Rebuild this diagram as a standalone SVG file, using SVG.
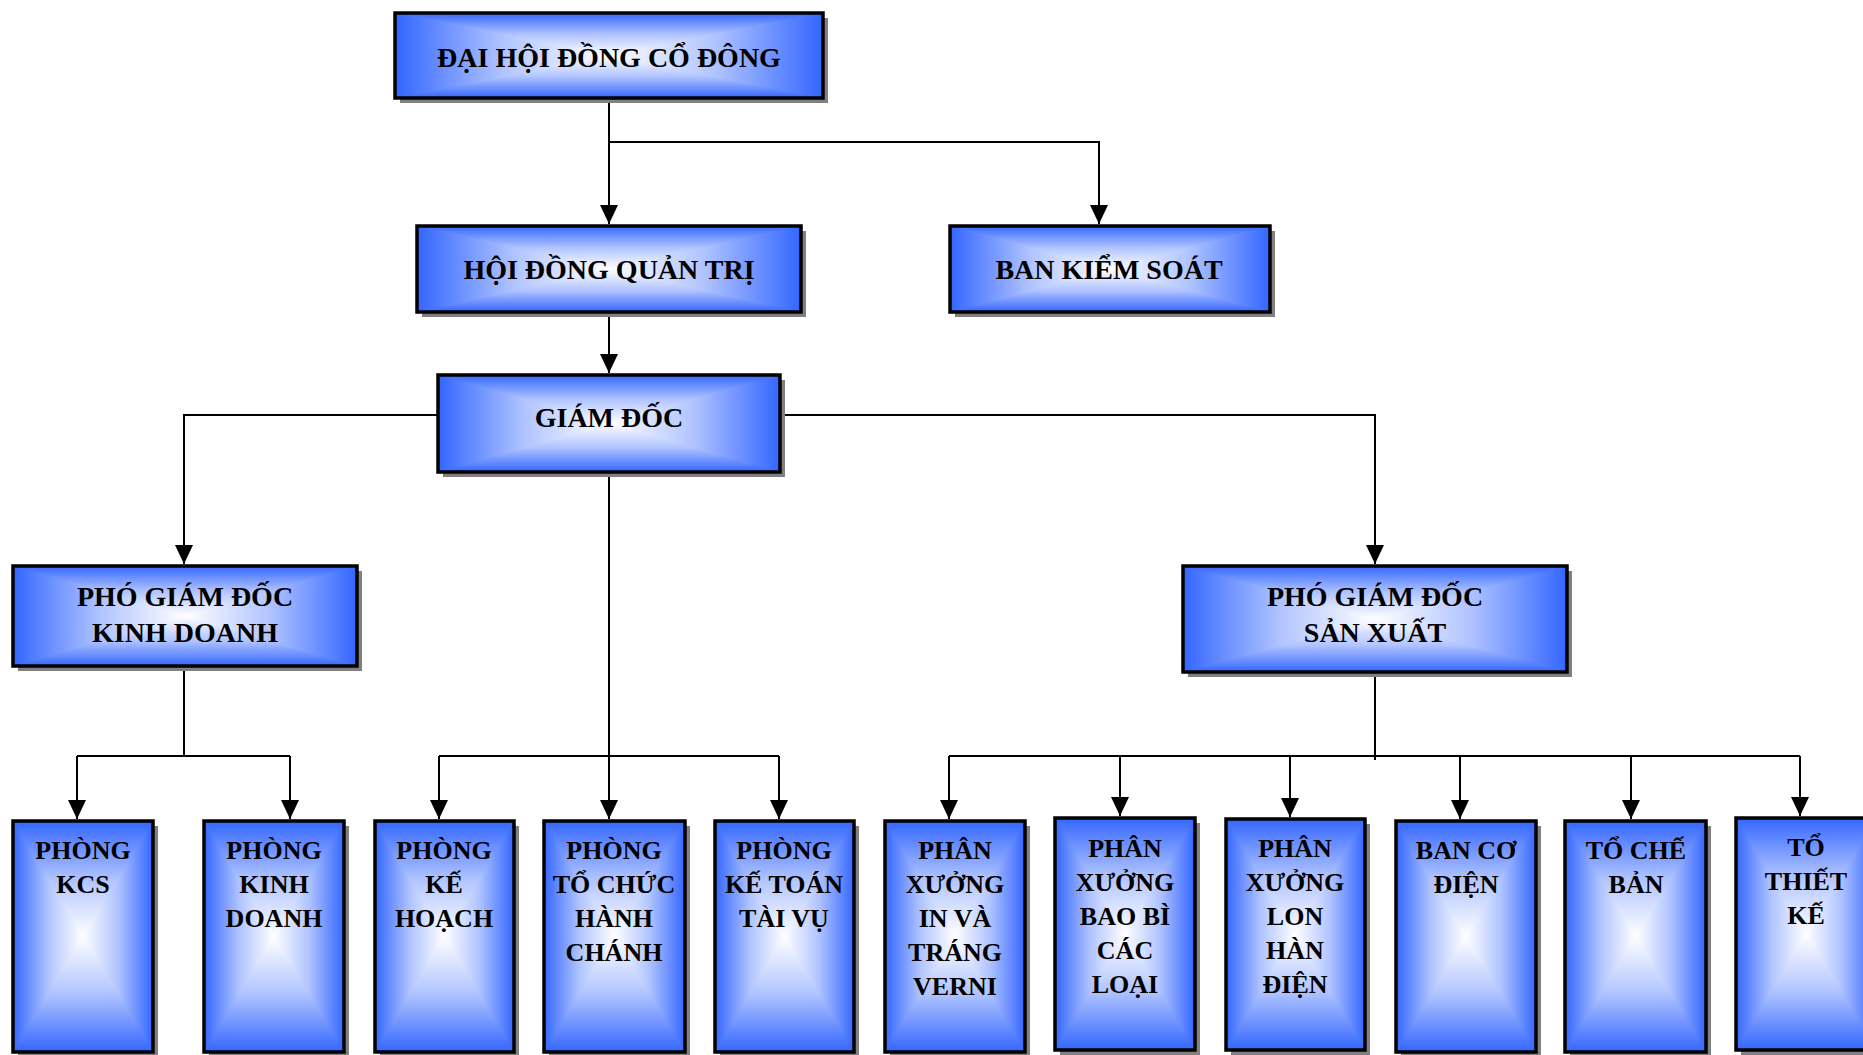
<svg xmlns="http://www.w3.org/2000/svg" width="1863" height="1055" viewBox="0 0 1863 1055">
<style>
.sh{fill:#808080}
.bx{fill:none;stroke:#000;stroke-width:3.5}
.t{font-family:"Liberation Serif","Times New Roman",serif;font-weight:bold;fill:#000;text-anchor:middle}
.t28{font-size:28px}
.t26{font-size:26px}
.c{fill:none;stroke:#000;stroke-width:2}
.ca{fill:none;stroke:#000;stroke-width:2;marker-end:url(#arr)}
.s0{stop-color:#3366FF}
.s1{stop-color:#AFC3FF}
.s2{stop-color:#FFFFFF}
.q{shape-rendering:crispEdges}
</style>
<defs>
<linearGradient id="gT" x1="0" y1="0" x2="0" y2="1"><stop offset="0" class="s0"/><stop offset="0.5" class="s1"/><stop offset="1" class="s2"/></linearGradient>
<linearGradient id="gB" x1="0" y1="1" x2="0" y2="0"><stop offset="0" class="s0"/><stop offset="0.5" class="s1"/><stop offset="1" class="s2"/></linearGradient>
<linearGradient id="gL" x1="0" y1="0" x2="1" y2="0"><stop offset="0" class="s0"/><stop offset="0.5" class="s1"/><stop offset="1" class="s2"/></linearGradient>
<linearGradient id="gR" x1="1" y1="0" x2="0" y2="0"><stop offset="0" class="s0"/><stop offset="0.5" class="s1"/><stop offset="1" class="s2"/></linearGradient>
<symbol id="fill" viewBox="0 0 1 1" preserveAspectRatio="none">
<rect width="1" height="1" fill="#8FA9FF"/>
<polygon class="q" points="0,0 1,0 0.5,0.5" fill="url(#gT)"/>
<polygon class="q" points="0,1 1,1 0.5,0.5" fill="url(#gB)"/>
<polygon class="q" points="0,0 0,1 0.5,0.5" fill="url(#gL)"/>
<polygon class="q" points="1,0 1,1 0.5,0.5" fill="url(#gR)"/>
</symbol>
<marker id="arr" viewBox="0 0 19 18" markerWidth="19" markerHeight="18" refX="19" refY="9" orient="auto" markerUnits="userSpaceOnUse">
<path d="M0,0 L19,9 L0,18 z" fill="#000"/>
</marker>
</defs>

<g id="connectors">
<path class="ca" d="M609,98 V224"/>
<path class="ca" d="M609,142 H1099 V224"/>
<path class="ca" d="M609,312 V373"/>
<path class="ca" d="M438,415 H184 V564"/>
<path class="ca" d="M780,415 H1375 V564"/>
<path class="ca" d="M609,472 V819"/>
<path class="c" d="M439,756 H779"/>
<path class="ca" d="M439,756 V819"/>
<path class="ca" d="M779,756 V819"/>
<path class="c" d="M184,666 V756"/>
<path class="c" d="M77,756 H290"/>
<path class="ca" d="M77,756 V819"/>
<path class="ca" d="M290,756 V819"/>
<path class="c" d="M1375,672 V760"/>
<path class="c" d="M949,756 H1800"/>
<path class="ca" d="M949,756 V819"/>
<path class="ca" d="M1120,756 V816"/>
<path class="ca" d="M1290,756 V817"/>
<path class="ca" d="M1460,756 V819"/>
<path class="ca" d="M1631,756 V819"/>
<path class="ca" d="M1800,756 V816"/>
</g>

<g id="dai-hoi-dong-co-dong">
<rect class="sh" x="400" y="18" width="428" height="85"/>
<use href="#fill" x="395" y="13" width="428" height="85"/>
<rect class="bx" x="395" y="13" width="428" height="85"/>
<text class="t t28" x="609" y="67">ĐẠI HỘI ĐỒNG CỔ ĐÔNG</text>
</g>

<g id="hoi-dong-quan-tri">
<rect class="sh" x="422" y="231" width="384" height="86"/>
<use href="#fill" x="417" y="226" width="384" height="86"/>
<rect class="bx" x="417" y="226" width="384" height="86"/>
<text class="t t28" x="609" y="279">HỘI ĐỒNG QUẢN TRỊ</text>
</g>

<g id="ban-kiem-soat">
<rect class="sh" x="955" y="231" width="320" height="86"/>
<use href="#fill" x="950" y="226" width="320" height="86"/>
<rect class="bx" x="950" y="226" width="320" height="86"/>
<text class="t t28" x="1109" y="279">BAN KIỂM SOÁT</text>
</g>

<g id="giam-doc">
<rect class="sh" x="443" y="380" width="342" height="97"/>
<use href="#fill" x="438" y="375" width="342" height="97"/>
<rect class="bx" x="438" y="375" width="342" height="97"/>
<text class="t t28" x="609" y="427">GIÁM ĐỐC</text>
</g>

<g id="pho-giam-doc-kinh-doanh">
<rect class="sh" x="18" y="571" width="344" height="100"/>
<use href="#fill" x="13" y="566" width="344" height="100"/>
<rect class="bx" x="13" y="566" width="344" height="100"/>
<text class="t t28" x="185" y="606">PHÓ GIÁM ĐỐC</text>
<text class="t t28" x="185" y="642">KINH DOANH</text>
</g>

<g id="pho-giam-doc-san-xuat">
<rect class="sh" x="1188" y="571" width="384" height="106"/>
<use href="#fill" x="1183" y="566" width="384" height="106"/>
<rect class="bx" x="1183" y="566" width="384" height="106"/>
<text class="t t28" x="1375" y="606">PHÓ GIÁM ĐỐC</text>
<text class="t t28" x="1375" y="642">SẢN XUẤT</text>
</g>

<g id="phong-kcs">
<rect class="sh" x="18" y="826" width="140" height="231"/>
<use href="#fill" x="13" y="821" width="140" height="231"/>
<rect class="bx" x="13" y="821" width="140" height="231"/>
<text class="t t26" x="83" y="859">PHÒNG</text>
<text class="t t26" x="83" y="893">KCS</text>
</g>

<g id="phong-kinh-doanh">
<rect class="sh" x="209" y="826" width="140" height="231"/>
<use href="#fill" x="204" y="821" width="140" height="231"/>
<rect class="bx" x="204" y="821" width="140" height="231"/>
<text class="t t26" x="274" y="859">PHÒNG</text>
<text class="t t26" x="274" y="893">KINH</text>
<text class="t t26" x="274" y="927">DOANH</text>
</g>

<g id="phong-ke-hoach">
<rect class="sh" x="380" y="826" width="139" height="231"/>
<use href="#fill" x="375" y="821" width="139" height="231"/>
<rect class="bx" x="375" y="821" width="139" height="231"/>
<text class="t t26" x="444" y="859">PHÒNG</text>
<text class="t t26" x="444" y="893">KẾ</text>
<text class="t t26" x="444" y="927">HOẠCH</text>
</g>

<g id="phong-to-chuc-hanh-chanh">
<rect class="sh" x="549" y="826" width="141" height="231"/>
<use href="#fill" x="544" y="821" width="141" height="231"/>
<rect class="bx" x="544" y="821" width="141" height="231"/>
<text class="t t26" x="614" y="859">PHÒNG</text>
<text class="t t26" x="614" y="893">TỔ CHỨC</text>
<text class="t t26" x="614" y="927">HÀNH</text>
<text class="t t26" x="614" y="961">CHÁNH</text>
</g>

<g id="phong-ke-toan-tai-vu">
<rect class="sh" x="720" y="826" width="139" height="231"/>
<use href="#fill" x="715" y="821" width="139" height="231"/>
<rect class="bx" x="715" y="821" width="139" height="231"/>
<text class="t t26" x="784" y="859">PHÒNG</text>
<text class="t t26" x="784" y="893">KẾ TOÁN</text>
<text class="t t26" x="784" y="927">TÀI VỤ</text>
</g>

<g id="phan-xuong-in-va-trang-verni">
<rect class="sh" x="890" y="826" width="140" height="231"/>
<use href="#fill" x="885" y="821" width="140" height="231"/>
<rect class="bx" x="885" y="821" width="140" height="231"/>
<text class="t t26" x="955" y="859">PHÂN</text>
<text class="t t26" x="955" y="893">XƯỞNG</text>
<text class="t t26" x="955" y="927">IN VÀ</text>
<text class="t t26" x="955" y="961">TRÁNG</text>
<text class="t t26" x="955" y="995">VERNI</text>
</g>

<g id="phan-xuong-bao-bi-cac-loai">
<rect class="sh" x="1060" y="823" width="140" height="232"/>
<use href="#fill" x="1055" y="818" width="140" height="232"/>
<rect class="bx" x="1055" y="818" width="140" height="232"/>
<text class="t t26" x="1125" y="857">PHÂN</text>
<text class="t t26" x="1125" y="891">XƯỞNG</text>
<text class="t t26" x="1125" y="925">BAO BÌ</text>
<text class="t t26" x="1125" y="959">CÁC</text>
<text class="t t26" x="1125" y="993">LOẠI</text>
</g>

<g id="phan-xuong-lon-han-dien">
<rect class="sh" x="1231" y="824" width="139" height="231"/>
<use href="#fill" x="1226" y="819" width="139" height="231"/>
<rect class="bx" x="1226" y="819" width="139" height="231"/>
<text class="t t26" x="1295" y="857">PHÂN</text>
<text class="t t26" x="1295" y="891">XƯỞNG</text>
<text class="t t26" x="1295" y="925">LON</text>
<text class="t t26" x="1295" y="959">HÀN</text>
<text class="t t26" x="1295" y="993">ĐIỆN</text>
</g>

<g id="ban-co-dien">
<rect class="sh" x="1401" y="826" width="140" height="231"/>
<use href="#fill" x="1396" y="821" width="140" height="231"/>
<rect class="bx" x="1396" y="821" width="140" height="231"/>
<text class="t t26" x="1466" y="859">BAN CƠ</text>
<text class="t t26" x="1466" y="893">ĐIỆN</text>
</g>

<g id="to-che-ban">
<rect class="sh" x="1570" y="826" width="141" height="231"/>
<use href="#fill" x="1565" y="821" width="141" height="231"/>
<rect class="bx" x="1565" y="821" width="141" height="231"/>
<text class="t t26" x="1636" y="859">TỔ CHẾ</text>
<text class="t t26" x="1636" y="893">BẢN</text>
</g>

<g id="to-thiet-ke">
<rect class="sh" x="1741" y="823" width="140" height="232"/>
<use href="#fill" x="1736" y="818" width="140" height="232"/>
<rect class="bx" x="1736" y="818" width="140" height="232"/>
<text class="t t26" x="1806" y="856">TỔ</text>
<text class="t t26" x="1806" y="890">THIẾT</text>
<text class="t t26" x="1806" y="924">KẾ</text>
</g>
</svg>
